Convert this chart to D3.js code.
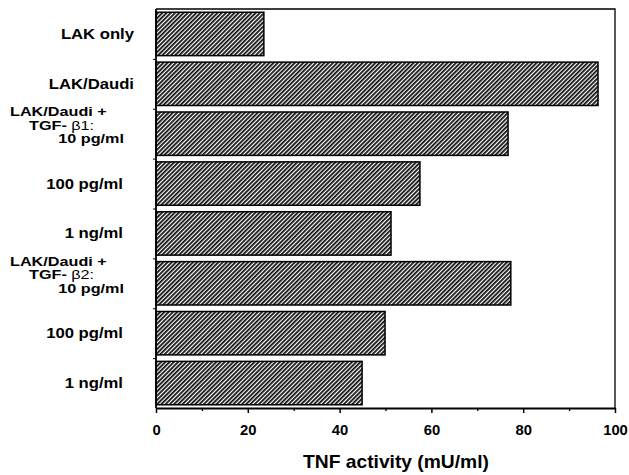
<!DOCTYPE html>
<html>
<head>
<meta charset="utf-8">
<script src="https://cdn.jsdelivr.net/npm/d3@7"></script>
<style>
    body { margin: 0; background: #fff; }
    svg { display: block; }
    text { font-family: "Liberation Sans", Arial, sans-serif; fill: #000; }
</style>
</head>
<body>
<div id="chart-area"></div>
<script>
// Conditions, top to bottom
const categories = ['LAK only', 'LAK/Daudi', 'b1 10 pg/ml', 'b1 100 pg/ml', 'b1 1 ng/ml',
    'b2 10 pg/ml', 'b2 100 pg/ml', 'b2 1 ng/ml'];

// Label text for each condition (multi-line where the figure has a group heading)
const labelLines = [
    ['LAK only'],
    ['LAK/Daudi'],
    ['LAK/Daudi +', 'TGF- |β1:', '10 pg/ml'],
    ['100 pg/ml'],
    ['1 ng/ml'],
    ['LAK/Daudi +', 'TGF- |β2:', '10 pg/ml'],
    ['100 pg/ml'],
    ['1 ng/ml']
];

// TNF activity (mU/ml)
const tnfValues = [23.5, 96.3, 76.7, 57.5, 51.2, 77.3, 49.9, 44.9];

const xTicks = [0, 20, 40, 60, 80, 100];
const xMinorTicks = [10, 30, 50, 70, 90];
const xTitle = 'TNF activity (mU/ml)';

const W = 629, H = 475;
const margin = {top: 9, right: 14, bottom: 67, left: 156};

const svg = d3.select('#chart-area')
    .append('svg')
    .attr('width', W)
    .attr('height', H);

// hatch fill for the bars
const defs = svg.append('defs');
const pat = defs.append('pattern')
    .attr('id', 'hatch')
    .attr('patternUnits', 'userSpaceOnUse')
    .attr('width', 3)
    .attr('height', 3)
    .attr('patternTransform', 'rotate(45)');
pat.append('rect').attr('width', 3).attr('height', 3).attr('fill', '#fff');
pat.append('line')
    .attr('x1', 0.9).attr('y1', 0)
    .attr('x2', 0.9).attr('y2', 3)
    .attr('stroke', '#0a0a0a')
    .attr('stroke-width', 1.75);

const x = d3.scaleLinear()
    .domain([0, 100])
    .range([margin.left, W - margin.right]);

const y = d3.scaleBand()
    .domain(categories)
    .range([margin.top, H - margin.bottom])
    .paddingInner(0.13)
    .paddingOuter(0.065);

const yBottom = H - margin.bottom;

// bars
svg.append('g')
    .selectAll('rect')
    .data(tnfValues)
    .enter()
    .append('rect')
    .attr('x', x(0))
    .attr('y', (d, i) => y(categories[i]))
    .attr('width', d => x(d) - x(0))
    .attr('height', y.bandwidth())
    .attr('fill', 'url(#hatch)')
    .attr('stroke', '#000')
    .attr('stroke-width', 1.5);

// frame: top and right
svg.append('path')
    .attr('d', `M${x(0)},${margin.top}H${x(100)}V${yBottom}`)
    .attr('fill', 'none')
    .attr('stroke', '#000')
    .attr('stroke-width', 1.3);

// x axis, major ticks with labels
const xAxis = svg.append('g')
    .attr('transform', `translate(0,${yBottom})`)
    .call(d3.axisBottom(x)
        .tickValues(xTicks)
        .tickSize(5)
        .tickPadding(12)
        .tickSizeOuter(0));
xAxis.select('.domain').attr('stroke-width', 1.8);
xAxis.selectAll('.tick line').attr('stroke-width', 1.5);
xAxis.selectAll('.tick text')
    .style('font-family', '"Liberation Sans", Arial, sans-serif')
    .style('font-size', '14px')
    .style('font-weight', 'bold')
    .attr('transform', 'scale(1.06,1)');

// minor ticks
const xMinor = svg.append('g')
    .attr('transform', `translate(0,${yBottom})`)
    .call(d3.axisBottom(x)
        .tickValues(xMinorTicks)
        .tickSize(3)
        .tickFormat(''));
xMinor.select('.domain').remove();
xMinor.selectAll('.tick line').attr('stroke-width', 1.3);

// y axis: band separators as small ticks
const yEdge = d3.scaleLinear()
    .domain([0, categories.length])
    .range([y(categories[0]) - y.step() * y.paddingInner() / 2,
            y(categories[categories.length - 1]) + y.bandwidth() + y.step() * y.paddingInner() / 2]);
const yAxis = svg.append('g')
    .attr('transform', `translate(${x(0)},0)`)
    .call(d3.axisLeft(yEdge)
        .tickValues(d3.range(1, categories.length))
        .tickSize(3)
        .tickSizeOuter(0)
        .tickFormat(''));
yAxis.select('.domain')
    .attr('d', `M0,${margin.top}V${yBottom}`)
    .attr('stroke-width', 1.8);

// category labels
const labelG = svg.append('g')
    .attr('font-size', 14.5)
    .attr('font-weight', 'bold');

labelLines.forEach((lines, i) => {
    const cy = y(categories[i]) + y.bandwidth() / 2;
    if (lines.length === 1) {
        const xEnd = i < 2 ? 134 : 123;
        labelG.append('text')
            .attr('text-anchor', 'end')
            .attr('transform', `translate(${xEnd},${cy + 5}) scale(1.15,1)`)
            .text(lines[0]);
    } else {
        const base = [cy - 17.5, cy - 4, cy + 9.5];
        const anchors = ['start', 'start', 'end'];
        const xs = [10, 29, 124];
        lines.forEach((ln, j) => {
            const t = labelG.append('text')
                .attr('text-anchor', anchors[j])
                .attr('font-size', 13.5)
                .attr('transform', `translate(${xs[j]},${base[j]}) scale(1.2,1)`);
            const parts = ln.split('|');
            t.append('tspan').text(parts[0]);
            if (parts.length > 1) {
                t.append('tspan')
                    .attr('font-weight', 'normal')
                    .text(parts[1]);
            }
        });
    }
});

// x title
svg.append('text')
    .attr('text-anchor', 'middle')
    .attr('font-size', 17.5)
    .attr('font-weight', 'bold')
    .attr('transform', `translate(396,468) scale(1.1,1)`)
    .text(xTitle);
</script>
</body>
</html>
